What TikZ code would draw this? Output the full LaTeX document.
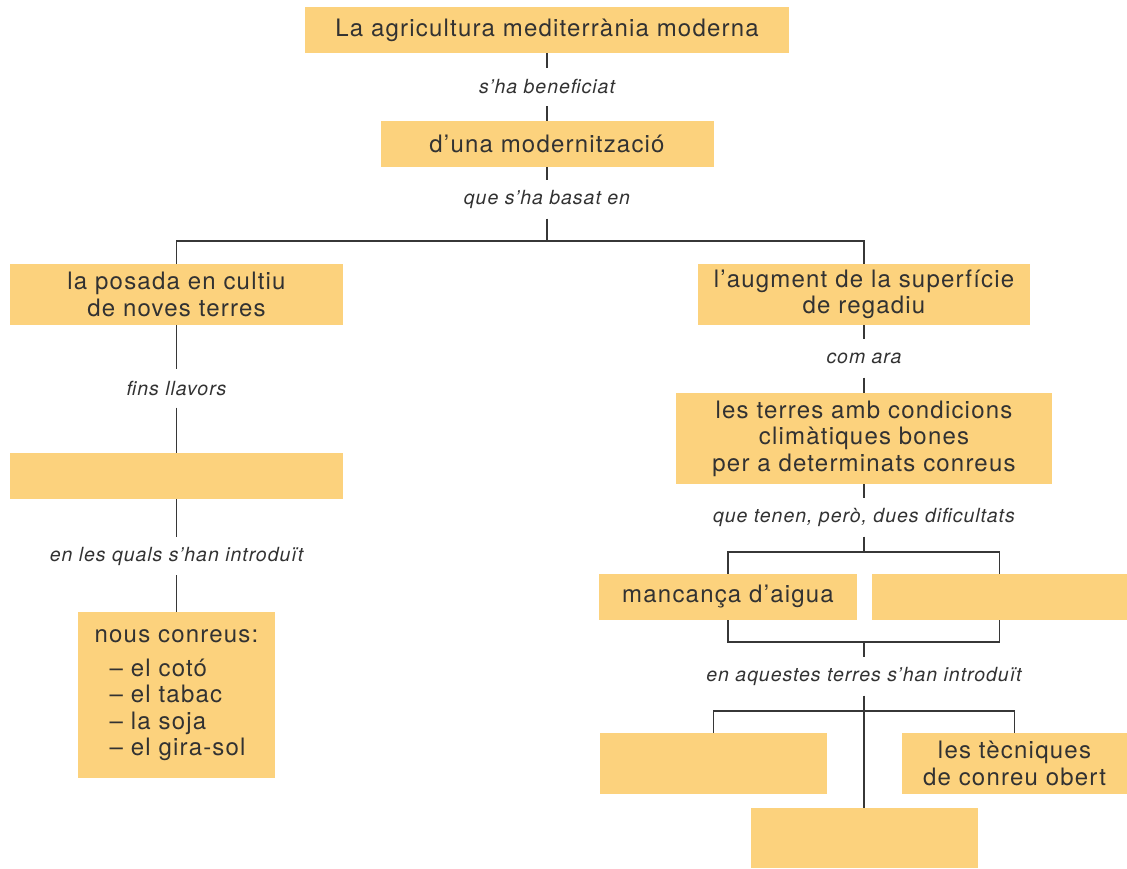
\documentclass[tikz,border=0pt]{standalone}
\usepackage{fontspec}
\setmainfont{TeX Gyre Heros}[LetterSpace=5]
\newfontfamily\labfont{TeX Gyre Heros}[LetterSpace=5]
\definecolor{boxc}{RGB}{252,210,125}
\definecolor{txtc}{RGB}{50,50,50}
\definecolor{linec}{RGB}{55,55,55}
\tikzset{
  box/.style={fill=boxc, inner sep=0pt, align=center, text=txtc,
    font=\fontsize{24}{26.5}\selectfont},
  lab/.style={inner sep=0pt, minimum height=38pt, text=txtc,
    font=\labfont\itshape\fontsize{19.5}{22}\selectfont},
  conn/.style={draw=linec, line width=1.2pt},
}
\begin{document}
\begin{tikzpicture}[x=1pt,y=-1pt]
\useasboundingbox (0,0) rectangle (1127,868);
% boxes
\node[box, minimum width=484pt, minimum height=46pt] (top) at (547,30) {La agricultura mediterrània moderna};
\node[box, minimum width=333pt, minimum height=46pt] (mod) at (547,144) {d’una modernització};
\node[box, minimum width=333pt, minimum height=61pt] (posada) at (176.5,294.5) {la posada en cultiu\\de noves terres};
\node[box, minimum width=333pt, minimum height=46pt] (blankA) at (176.5,476) {};
\node[box, minimum width=197pt, minimum height=166pt, align=left] (nous) at (176.5,695)
  {nous conreus:\\[7.5pt]\hspace*{15pt}– el cotó\\\hspace*{15pt}– el tabac\\\hspace*{15pt}– la soja\\\hspace*{15pt}– el gira-sol};
\node[box, minimum width=332pt, minimum height=61pt] (augment) at (864,294.5) {l’augment de la superfície\\de regadiu};
\node[box, minimum width=376pt, minimum height=91pt] (terres) at (864,438.5) {les terres amb condicions\\climàtiques bones\\per a determinats conreus};
\node[box, minimum width=258pt, minimum height=46pt] (mancanca) at (728,597) {mancança d’aigua};
\node[box, minimum width=255pt, minimum height=46pt] (blankB) at (999.5,597) {};
\node[box, minimum width=227pt, minimum height=61pt] (blankC) at (713.5,763.5) {};
\node[box, minimum width=225pt, minimum height=61pt] (tecniques) at (1014.5,763.5) {les tècniques\\de conreu obert};
\node[box, minimum width=227pt, minimum height=60pt] (blankD) at (864,838) {};
% labels
\node[lab] (l1) at (547,87) {s’ha beneficiat};
\node[lab] (l2) at (547,199.5) {que s’ha basat en};
\node[lab] (l3) at (176.5,388.5) {fins llavors};
\node[lab] (l4) at (176.5,556) {en les quals s’han introduït};
\node[lab] (l5) at (864,358.5) {com ara};
\node[lab] (l6) at (864,517.5) {que tenen, però, dues dificultats};
\node[lab] (l7) at (864,676.5) {en aquestes terres s’han introduït};
% junctions
\coordinate (j1) at (547,241);
\coordinate (j2) at (864,552);
\coordinate (j3) at (864,642);
\coordinate (j4) at (864,711);
% connectors
\draw[conn] (top) -- (l1) -- (mod) -- (l2);
\draw[conn] (l2.south) -- (j1);
\draw[conn] (posada.north) |- (j1) -| (augment.north);
\draw[conn] (posada) -- (l3) -- (blankA) -- (l4) -- (nous);
\draw[conn] (augment) -- (l5) -- (terres) -- (l6);
\draw[conn] (l6.south) -- (j2);
\draw[conn] (mancanca.north) |- (j2) -| (blankB.north);
\draw[conn] (mancanca.south) |- (j3) -| (blankB.south);
\draw[conn] (j3) -- (l7.north);
\draw[conn] (l7) -- (blankD);
\draw[conn] (blankC.north) |- (j4) -| (tecniques.north);
\end{tikzpicture}
\end{document}
